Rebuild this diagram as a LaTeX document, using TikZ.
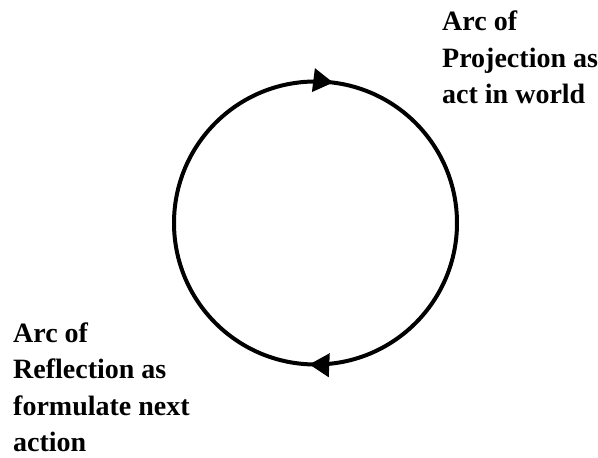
\documentclass[tikz,border=0pt]{standalone}
\usepackage{fontspec}
\setmainfont{Liberation Serif}
\usetikzlibrary{arrows.meta,decorations.markings}

\tikzset{
  label text/.style={inner sep=0pt, align=left, anchor=base west,
    font=\fontsize{28}{36.5}\selectfont\bfseries},
  cycle line/.style={line width=4pt, postaction={decorate},
    decoration={markings,
      mark=at position 0.27 with {\arrow{Triangle[length=20pt,width=23pt]}},
      mark=at position 0.757 with {\arrow{Triangle[length=20pt,width=23pt]}}}}
}

\begin{document}
\begin{tikzpicture}[x=1pt,y=1pt]
\useasboundingbox (0,0) rectangle (598,458);

\coordinate (c) at (315.5,235);

% clockwise loop
\draw [cycle line] (c) ++(180:141.5) arc [start angle=180, end angle=-180, radius=141.5];

% base anchor sits on the last line
\node [label text] (proj) at (442,354) {Arc of\\Projection as\\act in world};
\node [label text] (refl) at (13,6) {Arc of\\Reflection as\\formulate next\\action};

\end{tikzpicture}
\end{document}
